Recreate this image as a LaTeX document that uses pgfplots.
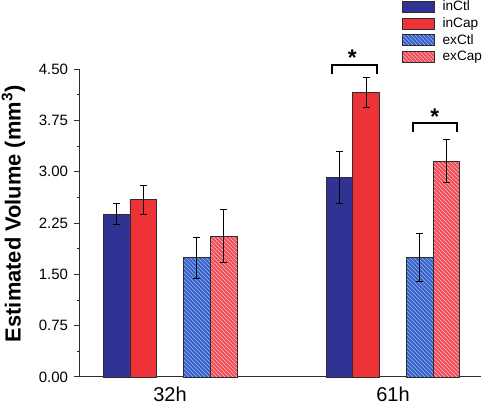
\documentclass[border=0pt]{standalone}
\usepackage{pgfplots}
\pgfplotsset{compat=1.18}
\usepackage{fontspec}
\setmainfont{Liberation Sans}
\usetikzlibrary{patterns}
\definecolor{cinctl}{RGB}{48,50,148}
\definecolor{cincap}{RGB}{237,50,56}
\definecolor{cexctl}{RGB}{58,98,200}
\definecolor{cexctll}{RGB}{150,180,240}
\definecolor{cexcap}{RGB}{238,78,88}
\definecolor{cexcapl}{RGB}{255,185,190}
\definecolor{edge}{RGB}{45,45,45}
\begin{document}
\begin{tikzpicture}
\begin{axis}[
  scale only axis,
  width=300.75pt, height=231pt,
  xmin=0.596, xmax=2.395,
  ymin=0, ymax=4.5,
  axis lines=left,
  axis line style={-, line width=0.75pt, draw=edge},
  clip=false,
  ybar, bar width=0.12, bar shift=0pt,
  xtick={1,2}, xticklabels={32h,61h},
  major x tick style={draw=none},
  xticklabel style={font=\fontsize{15}{17}\selectfont, yshift=0.5pt},
  ytick={0,0.75,...,4.5},
  minor y tick num=1,
  tick align=outside,
  major tick length=4.5pt, minor tick length=2.5pt,
  every tick/.style={line width=0.75pt, draw=edge},
  yticklabel style={font=\fontsize{11.25}{13}\selectfont, xshift=-1pt},
  /pgf/number format/assume math mode=true,
  yticklabel={\pgfmathprintnumber[fixed,fixed zerofill,precision=2]{\tick}},
  ylabel={\textbf{Estimated Volume (mm\textsuperscript{3})}},
  ylabel style={font=\fontsize{16.4}{18}\selectfont, at={(axis description cs:-0.166,0.53)}, anchor=center},
  legend image code/.code={\draw[#1] (0pt,-4.1pt) rectangle (24pt,4.1pt); \path (28.5pt,0pt);},
  legend style={at={(axis description cs:0.802,1.228)}, anchor=north west, draw=none, fill=none,
    font=\fontsize{10.2}{12}\selectfont, row sep=0.6pt, inner sep=0pt,
    nodes={inner sep=1.5pt}},
  legend cell align=left,
  error bars/y dir=both, error bars/y explicit,
  error bars/error bar style={line width=0.75pt, black},
  error bars/error mark options={rotate=90, mark size=2.7pt, line width=0.75pt, black},
]
\addplot[fill=cinctl, draw=edge, line width=0.6pt] coordinates {(0.76,2.38) +- (0,0.15) (1.76,2.92) +- (0,0.38)};
\addplot[fill=cincap, draw=edge, line width=0.6pt] coordinates {(0.88,2.59) +- (0,0.21) (1.88,4.155) +- (0,0.22)};
\addplot[fill=cexctl, draw=edge, line width=0.6pt, postaction={pattern=north west lines, pattern color=cexctll}] coordinates {(1.12,1.745) +- (0,0.30) (2.12,1.745) +- (0,0.35)};
\addplot[fill=cexcap, draw=edge, line width=0.6pt, postaction={pattern=north west lines, pattern color=cexcapl}] coordinates {(1.24,2.06) +- (0,0.39) (2.24,3.155) +- (0,0.32)};
\legend{inCtl,inCap,exCtl,exCap}
\draw[line width=1.5pt, black] (axis cs:1.726,4.43) -- (axis cs:1.726,4.56) -- (axis cs:1.928,4.56) -- (axis cs:1.928,4.43);
\draw[line width=1.5pt, black] (axis cs:2.09,3.58) -- (axis cs:2.09,3.71) -- (axis cs:2.287,3.71) -- (axis cs:2.287,3.58);
\node[font=\fontsize{17}{18}\selectfont\bfseries, inner sep=0pt] at (axis cs:1.818,4.66) {*};
\node[font=\fontsize{17}{18}\selectfont\bfseries, inner sep=0pt] at (axis cs:2.188,3.81) {*};
\end{axis}
\pgfresetboundingbox
\path[use as bounding box] (-60pt,-20.25pt) rectangle (302.25pt,282.75pt);
\end{tikzpicture}
\end{document}
